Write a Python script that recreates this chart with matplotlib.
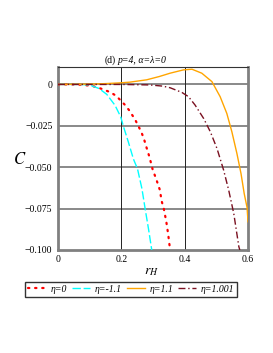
import numpy as np
import matplotlib.pyplot as plt

# values
r_eta0 = [0.0, 0.06, 0.106, 0.128, 0.148, 0.166, 0.183, 0.198, 0.212, 0.225, 0.236, 0.246,
          0.256, 0.265, 0.272, 0.278, 0.289, 0.299, 0.307, 0.314, 0.321, 0.328, 0.334,
          0.342, 0.348, 0.352, 0.355]
c_eta0 = [0.0, 0.0, -0.0008, -0.002, -0.0034, -0.0048, -0.0068, -0.0097, -0.0125, -0.0157,
          -0.019, -0.0222, -0.026, -0.0297, -0.0333, -0.0372, -0.044, -0.0515, -0.0556,
          -0.0594, -0.0634, -0.071, -0.075, -0.083, -0.0907, -0.097, -0.1]

r_etam11 = [0.0, 0.06, 0.08, 0.101, 0.13, 0.154, 0.18, 0.198, 0.206, 0.222, 0.238, 0.251,
            0.265, 0.275, 0.286, 0.296]
c_etam11 = [0.0, 0.0, -0.0001, -0.0004, -0.0025, -0.006, -0.0126, -0.0196, -0.025, -0.0347,
            -0.045, -0.051, -0.063, -0.075, -0.0876, -0.1]

r_eta11 = [0.0, 0.1, 0.15, 0.2, 0.227, 0.28, 0.32, 0.354, 0.396, 0.423, 0.454, 0.486,
           0.512, 0.533, 0.549, 0.565, 0.578, 0.588, 0.597, 0.6]
c_eta11 = [0.0, 0.0002, 0.0005, 0.001, 0.0014, 0.0028, 0.0048, 0.0068, 0.0088, 0.0092,
           0.0068, 0.0017, -0.0074, -0.0175, -0.0286, -0.0418, -0.054, -0.066, -0.0744, -0.083]

r_eta1001 = [0.0, 0.2, 0.29, 0.33, 0.354, 0.391, 0.412, 0.433, 0.46, 0.481, 0.502, 0.523,
             0.539, 0.555, 0.571, 0.574]
c_eta1001 = [0.0, 0.0, -0.0003, -0.001, -0.002, -0.0048, -0.0074, -0.0125, -0.0206, -0.0286,
             -0.0387, -0.0518, -0.0639, -0.078, -0.098, -0.1]

xticks = [0, 0.2, 0.4, 0.6]
xtick_labels = ['0', '0.2', '0.4', '0.6']
yticks = [0, -0.025, -0.05, -0.075, -0.1]
ytick_labels = ['0', '\u22120.025', '\u22120.050', '\u22120.075', '\u22120.100']
labels = ['\u03b7=0', '\u03b7=-1.1', '\u03b7=1.1', '\u03b7=1.001']

plt.rcParams['font.family'] = ['Liberation Serif', 'DejaVu Serif']
plt.rcParams['mathtext.fontset'] = 'stix'

fig = plt.figure(figsize=(2.73, 3.53), dpi=100)
ax = fig.add_axes([0.2125, 0.292, 0.696, 0.518])

# grid
for y in [0, -0.025, -0.05, -0.075]:
    ax.axhline(y, color='#808080', lw=1.3, zorder=1)
for x in [0.2, 0.4]:
    ax.axvline(x, color='#222222', lw=0.7, zorder=1)

ax.plot(r_eta0, c_eta0, color='red', lw=1.6, ls=(0, (0.6, 2.6)), dash_capstyle='round',
        label=labels[0], zorder=3)
ax.plot(r_etam11, c_etam11, color='cyan', lw=1.0, ls=(0, (6, 2)), label=labels[1], zorder=3)
ax.plot(r_eta11, c_eta11, color='orange', lw=1.0, label=labels[2], zorder=3)
ax.plot(r_eta1001, c_eta1001, color='#7a1020', lw=1.0, ls=(0, (5, 2, 1, 2)),
        label=labels[3], zorder=3)

ax.set_xlim(0, 0.6)
ax.set_ylim(-0.1, 0.0105)
ax.set_xticks(xticks)
ax.set_xticklabels(xtick_labels)
ax.set_yticks(yticks)
ax.set_yticklabels(ytick_labels)
ax.tick_params(length=0, labelsize=7, pad=4)

for side in ['left', 'bottom', 'right']:
    ax.spines[side].set_color('#808080')
    ax.spines[side].set_linewidth(2)
ax.spines['top'].set_color('#333333')
ax.spines['top'].set_linewidth(0.8)

fig.text(0.425, 0.815, '(d)', fontsize=7, ha='right', va='bottom')
fig.text(0.432, 0.815, 'p=4, \u03b1=\u03bb=0', fontsize=7, style='italic',
         ha='left', va='bottom')
ax.set_ylabel('$C$', fontsize=12, rotation=0, va='center', ha='center')
ax.yaxis.set_label_coords(-0.2, 0.49)
ax.set_xlabel('$r_H$', fontsize=10, va='top')
ax.xaxis.set_label_coords(0.49, -0.085)

fig.legend(loc='center', bbox_to_anchor=(0.48, 0.181), ncol=4,
           prop={'size': 7, 'style': 'italic'},
           frameon=True, fancybox=False, edgecolor='black', handlelength=1.9,
           columnspacing=0.5, handletextpad=0.45, borderpad=0.3, borderaxespad=0)

fig.savefig('out.png', dpi=100)
